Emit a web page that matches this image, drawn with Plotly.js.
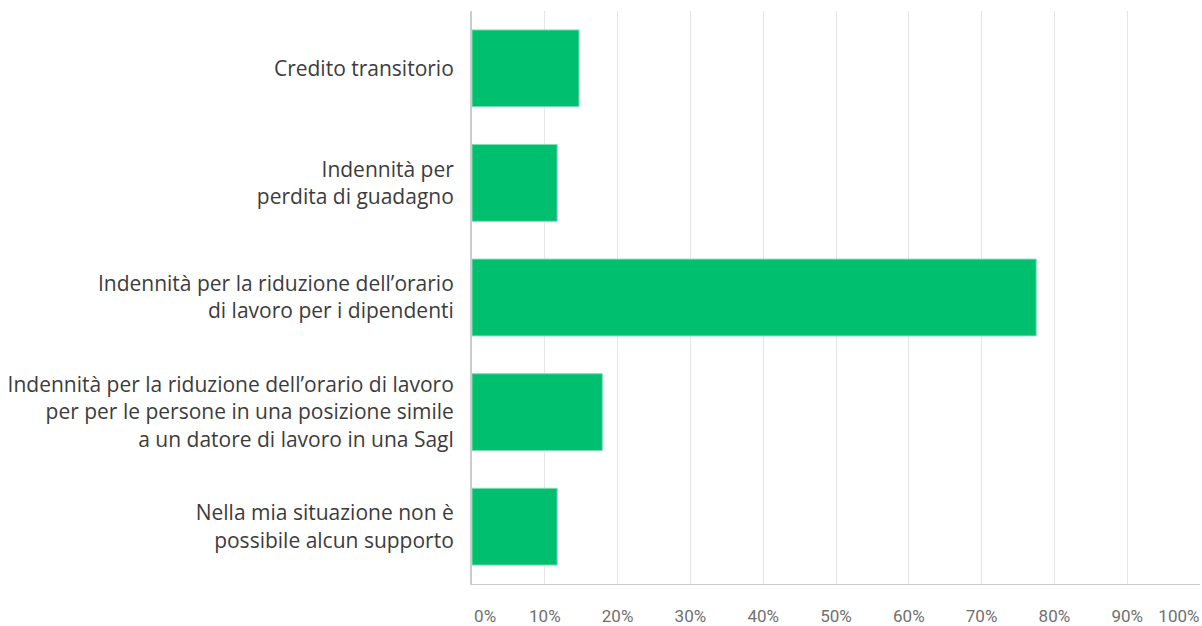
<!DOCTYPE html>
<html>
<head>
<meta charset="utf-8">
<script src="https://cdn.plot.ly/plotly-3.0.1.min.js"></script>
<style>html,body{margin:0;padding:0;background:#fff;}#chart{width:1202px;height:626px;}</style>
</head>
<body>
<div id="chart"></div>
<script>
const categories = [
  "Credito transitorio",
  "Indennità per<br>perdita di guadagno",
  "Indennità per la riduzione dell’orario<br>di lavoro per i dipendenti",
  "Indennità per la riduzione dell’orario di lavoro<br>per per le persone in una posizione simile<br>a un datore di lavoro in una Sagl",
  "Nella mia situazione non è<br>possibile alcun supporto"
];
const values = [14.7, 11.7, 77.5, 17.9, 11.7];
const gridVals = [0, 10, 20, 30, 40, 50, 60, 70, 80, 90, 100];
const tickLabels = ["0%", "10%", "20%", "30%", "40%", "50%", "60%", "70%", "80%", "90%", "100%"];
const tickLabelPos = [1.8, 10, 20, 30, 40, 50, 60, 70, 80, 90, 97.1];

const trace = {
  type: "bar",
  orientation: "h",
  x: values,
  y: categories,
  marker: { color: "#00BF6F", line: { color: "#7fdcb5", width: 1 } },
  hoverinfo: "x+y"
};
const labelTrace = {
  type: "scatter", mode: "markers", x: [], y: [], xaxis: "x2", yaxis: "y", showlegend: false, hoverinfo: "skip"
};

const layout = {
  width: 1202, height: 626,
  margin: { l: 472, r: 2, t: 11, b: 42 },
  paper_bgcolor: "#ffffff", plot_bgcolor: "#ffffff",
  showlegend: false,
  bargap: 0.33,
  xaxis: {
    range: [0, 100], tickvals: gridVals, showticklabels: false,
    showgrid: true, gridcolor: "#e6e6e6", gridwidth: 1,
    zeroline: false, showline: true, linecolor: "#cccccc", linewidth: 1,
    layer: "below traces", fixedrange: true
  },
  xaxis2: {
    overlaying: "x", side: "bottom", range: [0, 100],
    tickvals: tickLabelPos, ticktext: tickLabels,
    showgrid: false, zeroline: false, showline: false,
    ticks: "outside", ticklen: 17, tickcolor: "rgba(0,0,0,0)",
    tickfont: { family: "Roboto, sans-serif", size: 17, color: "#707070" }
  },
  yaxis: {
    autorange: "reversed", showgrid: false, zeroline: false,
    showline: true, linecolor: "#cccccc", linewidth: 2,
    ticks: "outside", ticklen: 12, tickcolor: "rgba(0,0,0,0)",
    tickfont: { family: "Open Sans, sans-serif", size: 21, color: "#3c3c3c" },
    layer: "below traces"
  }
};

Plotly.newPlot("chart", [trace, labelTrace], layout, { displayModeBar: false, staticPlot: true });
</script>
</body>
</html>
